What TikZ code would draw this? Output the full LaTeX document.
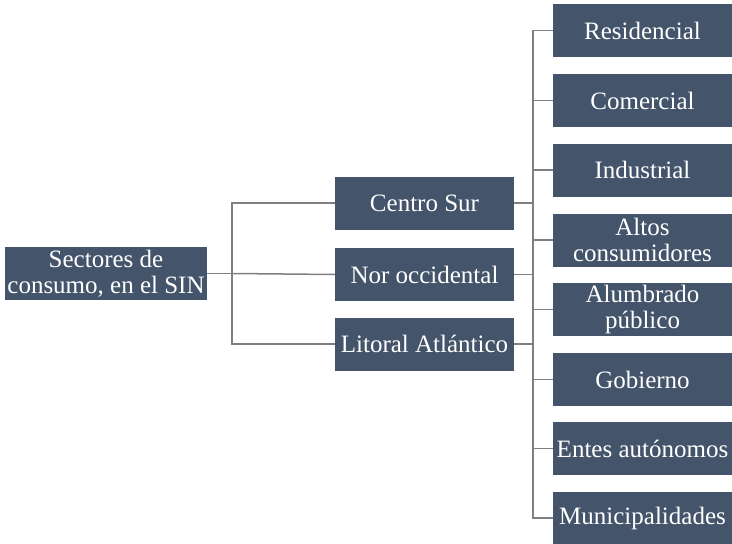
\documentclass[tikz,border=0pt]{standalone}
\usepackage{fontspec}
\setmainfont{Liberation Serif}
\usepackage{xcolor}
\definecolor{boxblue}{HTML}{44546A}
\definecolor{linegray}{HTML}{7F7F7F}

\begin{document}
\begin{tikzpicture}[x=1pt, y=-1pt,
    box/.style={rectangle, fill=boxblue, text=white, minimum width=179pt, minimum height=53pt, inner sep=0pt, align=center, font=\fontsize{25}{26}\selectfont},
    link/.style={draw=linegray, line width=1.5pt}
]
\useasboundingbox (0,0) rectangle (732,544);

\node[box, minimum width=202pt] (sin) at (106,273.5) {Sectores de\\consumo, en el SIN};

\node[box] (centro) at (424.5,203) {Centro Sur};
\node[box] (nor) at (424.5,274.5) {Nor occidental};
\node[box] (litoral) at (424.5,344) {Litoral Atlántico};

\node[box] (resid) at (642.5,30.5) {Residencial};
\node[box] (comer) at (642.5,100.5) {Comercial};
\node[box] (indus) at (642.5,170) {Industrial};
\node[box] (altos) at (642.5,240) {Altos\\consumidores};
\node[box] (alumb) at (642.5,309.5) {Alumbrado\\público};
\node[box] (gob) at (642.5,379.5) {Gobierno};
\node[box] (entes) at (642.5,448.5) {Entes autónomos};
\node[box] (munic) at (642.5,518) {Municipalidades};

\coordinate (busL) at (232,273.5);
\coordinate (busR) at (533,274.5);

% regions
\draw[link] (sin) -- (busL);
\draw[link] (centro.west) -| (busL) |- (litoral.west);
\draw[link] (busL) -- (nor.west);

% sectors
\draw[link] (resid.west) -| (busR) |- (munic.west);
\foreach \n in {comer,indus,altos,alumb,gob,entes}
    \draw[link] (\n.west) -- (\n.west -| busR);
\foreach \n in {centro,nor,litoral}
    \draw[link] (\n.east) -- (\n.east -| busR);
\end{tikzpicture}
\end{document}
